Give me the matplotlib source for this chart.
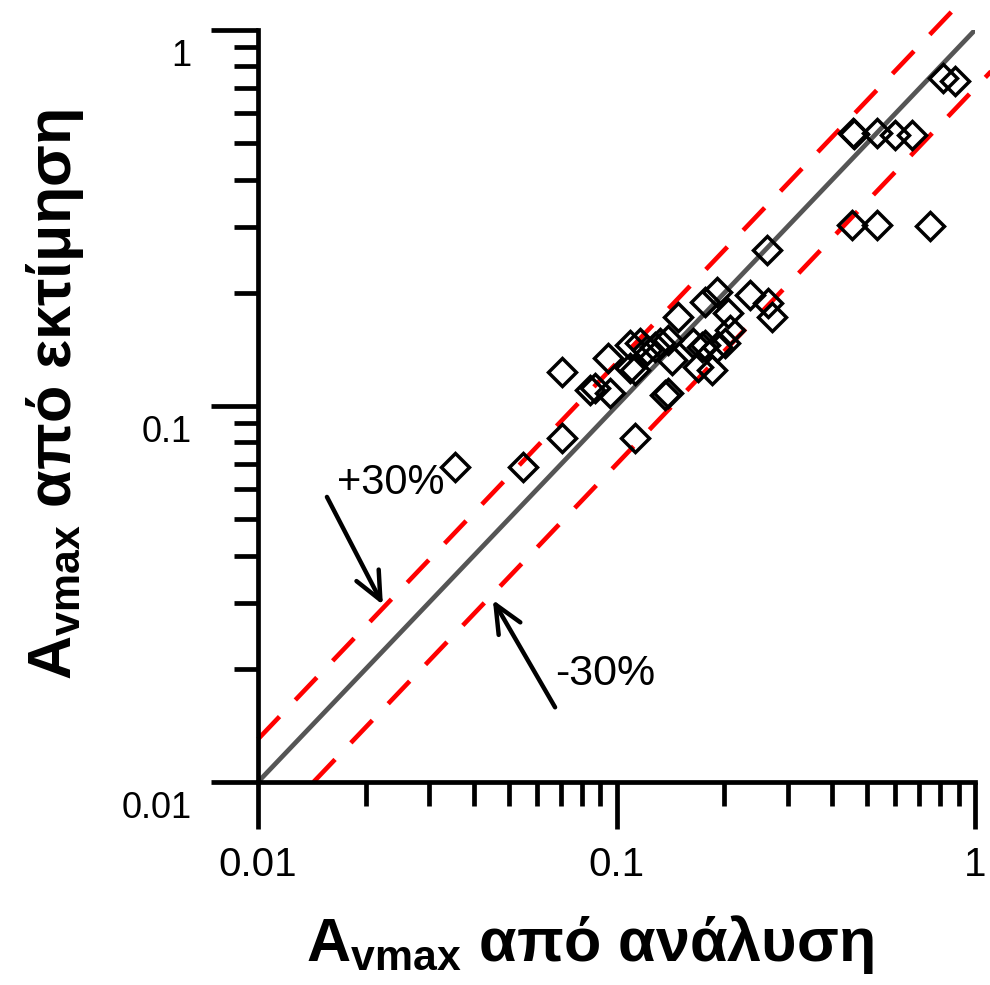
import matplotlib
matplotlib.use("Agg")
import matplotlib.pyplot as plt
from matplotlib import font_manager
from matplotlib.ticker import FixedLocator, NullFormatter
from matplotlib.transforms import ScaledTranslation
import numpy as np

# ---------- data: A_vmax from analysis vs. estimate ----------
a_analysis = [0.0354, 0.0549, 0.0705, 0.0705, 0.0844, 0.0870, 0.0959, 0.0947,
              0.1126, 0.109, 0.1126, 0.109, 0.1163, 0.1215, 0.128, 0.132,
              0.139, 0.143, 0.1366, 0.139, 0.1485, 0.1635, 0.1688, 0.1765,
              0.1906, 0.2046, 0.2074, 0.1765, 0.173, 0.1906, 0.2007, 0.1846,
              0.2356, 0.2646, 0.2715, 0.263, 0.456, 0.460, 0.533, 0.598,
              0.667, 0.454, 0.533, 0.749, 0.814, 0.880]
a_estimate = [0.0688, 0.0688, 0.0822, 0.1231, 0.1103, 0.1116, 0.1083, 0.134,
              0.0822, 0.126, 0.1246, 0.145, 0.147, 0.141, 0.1435, 0.147,
              0.1498, 0.1325, 0.107, 0.1083, 0.1725, 0.147, 0.127, 0.189,
              0.201, 0.1768, 0.159, 0.145, 0.1435, 0.1435, 0.147, 0.1246,
              0.197, 0.188, 0.172, 0.260, 0.532, 0.530, 0.532, 0.526,
              0.526, 0.303, 0.303, 0.301, 0.745, 0.732]

upper_factor = 1.3   # +30%
lower_factor = 0.7   # -30%

# ---------- fonts ----------
names = {f.name for f in font_manager.fontManager.ttflist}
label_font = "Liberation Sans Narrow" if "Liberation Sans Narrow" in names else "Liberation Sans"
plt.rcParams["font.family"] = ["Liberation Sans", "DejaVu Sans"]
plt.rcParams["mathtext.fontset"] = "custom"
plt.rcParams["mathtext.bf"] = label_font + ":bold"
plt.rcParams["mathtext.rm"] = label_font

fig = plt.figure(figsize=(9.9, 9.85), dpi=100)
ax = fig.add_axes([258/990, 1 - 782/985, 717/990, 752/985])
ax.set_xscale("log")
ax.set_yscale("log")
ax.set_xlim(0.01, 1)
ax.set_ylim(0.01, 1)

# 1:1 line and +/-30% bounds
ax.plot([0.01, 1], [0.01, 1], color="#555555", lw=3.4, zorder=2)
dash = (6.8, 5.0)
xu = np.array([0.01, 1.0])
ax.plot(xu, upper_factor * xu, color="red", lw=3.3, dashes=dash,
        clip_on=False, zorder=2)
xl = np.array([0.01 / lower_factor, 1.15])
ax.plot(xl, lower_factor * xl, color="red", lw=3.3, dashes=dash,
        clip_on=False, zorder=2)

ax.plot(a_analysis, a_estimate, linestyle="none", marker="D", ms=14.5,
        mfc="none", mec="black", mew=2.5, zorder=3)

# axes look
for side in ["top", "right"]:
    ax.spines[side].set_visible(False)
for side in ["left", "bottom"]:
    ax.spines[side].set_linewidth(3.4)

majors = [0.01, 0.1, 1]
minors = [m * d for d in (0.01, 0.1) for m in range(2, 10)]
for axis in (ax.xaxis, ax.yaxis):
    axis.set_major_locator(FixedLocator(majors))
    axis.set_minor_locator(FixedLocator(minors))
    axis.set_minor_formatter(NullFormatter())
ax.set_xticklabels(["0.01", "0.1", "1"])
ax.set_yticklabels(["0.01", "0.1", "1"])
ax.tick_params(which="major", direction="out", length=34, width=3.4)
ax.tick_params(which="minor", direction="out", length=17, width=3.4)
ax.tick_params(axis="x", which="major", pad=12, labelsize=29)
ax.tick_params(axis="y", which="major", pad=14, labelsize=26)
for lab in ax.get_yticklabels():
    lab.set_transform(lab.get_transform() + ScaledTranslation(0, -0.22, fig.dpi_scale_trans))

# annotations
arrow = dict(arrowstyle="->,head_length=2.0,head_width=0.9",
             color="black", lw=3.2, shrinkA=0, shrinkB=0)
ax.annotate("", xy=(0.0223, 0.0296), xytext=(0.01557, 0.0573), arrowprops=arrow)
ax.text(0.0166, 0.0585, "+30%", fontsize=30, ha="left", va="baseline")
ax.annotate("", xy=(0.0452, 0.0305), xytext=(0.0674, 0.0158), arrowprops=arrow)
ax.text(0.0674, 0.0181, "-30%", fontsize=31, ha="left", va="baseline")

# axis titles
fig.text(590/990, 1 - 945/985, r"$\mathbf{A}_{\mathbf{vmax}}$ από ανάλυση",
         family=label_font, fontweight="bold", fontsize=44,
         ha="center", va="center")
fig.text(55/990, 1 - 395/985, r"$\mathbf{A}_{\mathbf{vmax}}$ από εκτίμηση",
         family=label_font, fontweight="bold", fontsize=44,
         ha="center", va="center", rotation=90)

fig.savefig("out.png", dpi=100)
